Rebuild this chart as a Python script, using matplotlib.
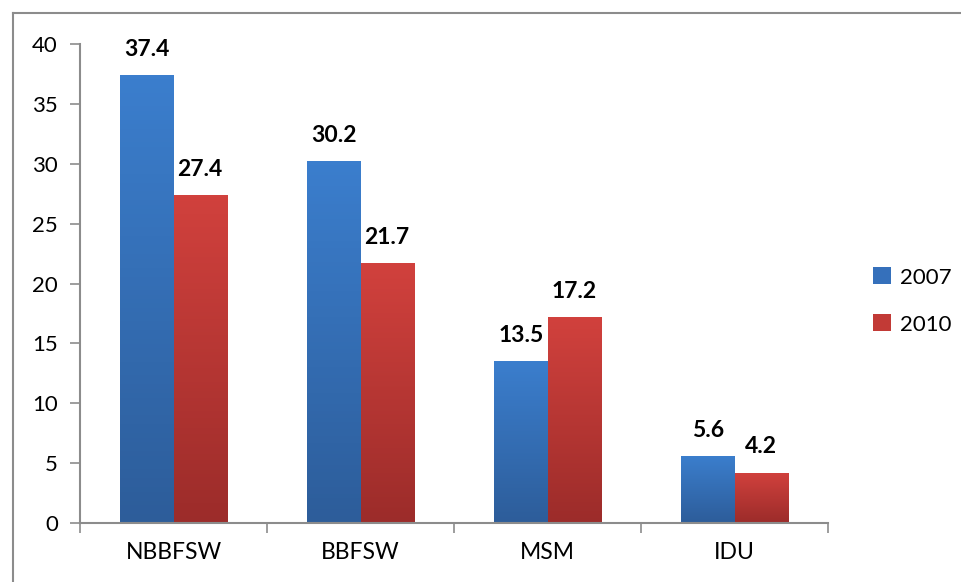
import numpy as np
import matplotlib.pyplot as plt
from matplotlib.colors import LinearSegmentedColormap
from matplotlib.lines import Line2D
from matplotlib.patches import Patch

categories = ["NBBFSW", "BBFSW", "MSM", "IDU"]
years = ["2007", "2010"]
v2007 = [37.4, 30.2, 13.5, 5.6]
v2010 = [27.4, 21.7, 17.2, 4.2]

plt.rcParams['font.family'] = ['Lato', 'DejaVu Sans']

fig = plt.figure(figsize=(9.61, 5.82), dpi=100)
ax = fig.add_axes([80/961, 1-523/582, (828-80)/961, (523-44)/582])

# outer chart border (left and top visible, the rest runs off the image)
fig.add_artist(Line2D([13/961, 13/961], [0, 1-13/582], transform=fig.transFigure, color='#8c8c8c', lw=1.5))
fig.add_artist(Line2D([13/961, 1], [1-13/582, 1-13/582], transform=fig.transFigure, color='#8c8c8c', lw=1.5))

x = np.arange(len(categories)) + 0.5
w = 0.285
grads = [('#3b7ecd', '#2d5d9a'), ('#d1413d', '#9c2c2a')]
legend_cols = ['#3570bb', '#c23a36']

for k, vals in enumerate([v2007, v2010]):
    xs = x + (k - 0.5) * w
    bars = ax.bar(xs, vals, w, color='none', edgecolor='none', zorder=2)
    cmap = LinearSegmentedColormap.from_list('g%d' % k, [grads[k][1], grads[k][0]])
    for b, v in zip(bars, vals):
        x0 = b.get_x()
        im = ax.imshow(np.linspace(0, 1, 100).reshape(-1, 1), cmap=cmap, origin='lower',
                       extent=(x0, x0 + w, 0, v), aspect='auto', zorder=2)
        im.set_clip_path(b)
        ax.annotate(f"{v}", (x0 + w/2, v), xytext=(0, 11), textcoords='offset points',
                    ha='center', va='bottom', fontsize=16.5, fontweight='bold')

ax.set_xlim(0, 4)
ax.set_ylim(0, 40)
ax.set_yticks(range(0, 41, 5))
ax.set_xticks(range(0, 5))
ax.set_xticklabels([])
ax.set_xticks(x, minor=True)
ax.set_xticklabels(categories, minor=True)
ax.tick_params(axis='x', which='minor', length=0, pad=14, labelsize=16.5)
ax.tick_params(axis='x', which='major', length=7, color='#8c8c8c', width=1.2)
ax.tick_params(axis='y', length=7, color='#8c8c8c', width=1.2, labelsize=16, pad=9)
for s in ['top', 'right']:
    ax.spines[s].set_visible(False)
for s in ['left', 'bottom']:
    ax.spines[s].set_color('#8c8c8c')
    ax.spines[s].set_linewidth(1.5)

handles = [Patch(facecolor=c) for c in legend_cols]
fig.legend(handles, years, loc='center left', bbox_to_anchor=(853/961, 1-301/582),
           frameon=False, fontsize=16, handlelength=0.8, handleheight=0.8,
           handletextpad=0.4, labelspacing=1.2)

fig.savefig("out.png", dpi=100)
